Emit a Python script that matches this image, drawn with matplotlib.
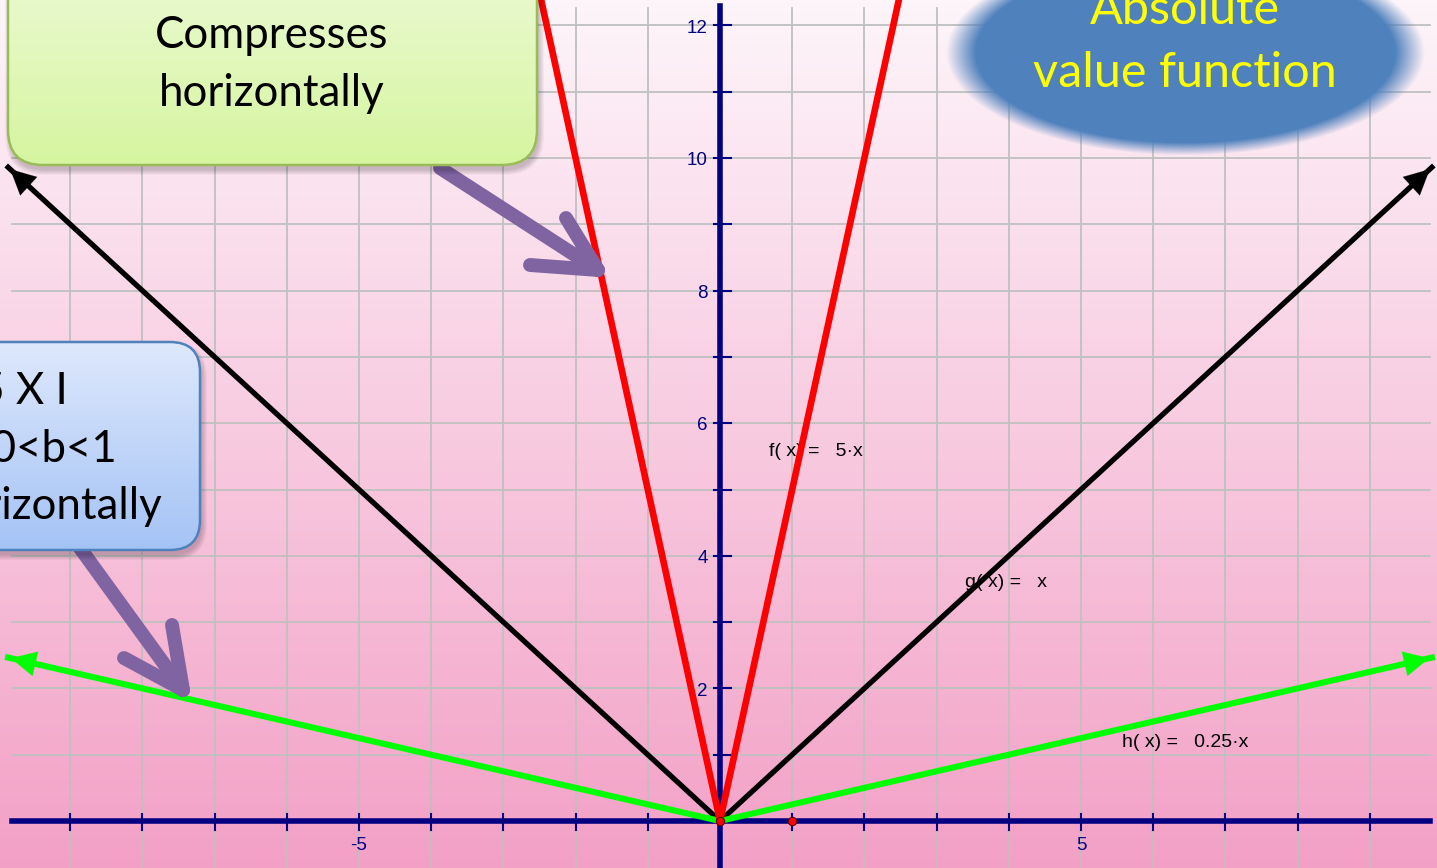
import numpy as np
import matplotlib.pyplot as plt
from matplotlib.patches import FancyBboxPatch

# Vértices (función valor absoluto)
f_x = [-2.48, 0, 2.48]
f_y = [12.4, 0, 12.4]
g_x = [-9.86, 0, 9.86]
g_y = [9.86, 0, 9.86]
h_x = [-9.86, 0, 9.86]
h_y = [2.465, 0, 2.465]

x_ticks = [-9, -8, -7, -6, -5, -4, -3, -2, -1, 1, 2, 3, 4, 5, 6, 7, 8, 9]
x_labels = [-5, 5]
y_ticks = [1, 2, 3, 4, 5, 6, 7, 8, 9, 10, 11, 12]
y_labels = [2, 4, 6, 8, 10, 12]
puntos_x = [0, 1]
puntos_y = [0, 0]
etiquetas = ['f( x) =   5·x', 'g( x) =   x', 'h( x) =   0.25·x']

W, H = 1437, 868
navy = '#000080'
fuente = 'Liberation Sans'
fuente2 = 'Lato'

fig = plt.figure(figsize=(W / 100, H / 100), dpi=100)
ax = fig.add_axes([0, 0, 1, 1])
xmin, xmax = -720 / 72.2, 717 / 72.2
ymin, ymax = -47 / 66.3, 821 / 66.3

# Fondo degradado
top = np.array([253, 245, 250]) / 255
bot = np.array([243, 160, 198]) / 255
t = np.linspace(0, 1, 256)[:, None, None]
grad = top * (1 - t) + bot * t
ax.imshow(grad, extent=[xmin, xmax, ymin, ymax], aspect='auto', origin='upper', zorder=0)

# Cuadrícula
gx0, gx1, gy1 = -9.81, 9.83, 12.26
for xv in x_ticks:
    ax.plot([xv, xv], [ymin, gy1], color='#c0c0c0', lw=1.3, zorder=1)
for yv in y_ticks:
    ax.plot([gx0, gx1], [yv, yv], color='#c0c0c0', lw=1.3, zorder=1)

# Ejes
ax.plot([gx0, gx1], [0, 0], color=navy, lw=4, zorder=2)
ax.plot([0, 0], [ymin, 12.29], color=navy, lw=4, zorder=2)
for xv in x_ticks:
    ax.plot([xv, xv], [-0.13, 0.1], color=navy, lw=1.5, zorder=2)
for yv in y_ticks:
    ax.plot([-0.08, 0.15], [yv, yv], color=navy, lw=1.5, zorder=2)
for xv in x_labels:
    ax.text(xv, -0.37, str(xv), ha='center', va='center', color=navy,
            fontsize=13.5, family=fuente, zorder=2)
for yv in y_labels:
    ax.text(-0.17, yv - 0.04, str(yv), ha='right', va='center', color=navy,
            fontsize=13.5, family=fuente, zorder=2)

# Etiquetas de funciones (debajo de las líneas)
ax.text(0.68, 5.57, etiquetas[0], fontsize=14, family=fuente, va='center', zorder=3)
ax.text(3.39, 3.60, etiquetas[1], fontsize=14, family=fuente, va='center', zorder=3)
ax.text(5.57, 1.19, etiquetas[2], fontsize=14, family=fuente, va='center', zorder=3)

# Funciones
ax.plot(g_x, g_y, color='black', lw=3.8, zorder=4)
ax.plot(h_x, h_y, color='#00ff00', lw=4.4, zorder=4)
ax.plot(f_x, f_y, color='red', lw=4.8, zorder=5)
for xs, ys, c in [(g_x, g_y, 'black'), (h_x, h_y, '#00ff00')]:
    for i in (0, 2):
        xe, ye = xs[i], ys[i]
        ax.annotate('', xy=(xe, ye), xytext=(xe * 0.97, ye * 0.97),
                    arrowprops=dict(arrowstyle='-|>,head_length=0.9,head_width=0.45',
                                    color=c, lw=0.1, mutation_scale=20), zorder=4)
ax.plot(puntos_x, puntos_y, 'o', color='red', mec='#600000', mew=0.8, ms=6, zorder=6)

ax.set_xlim(xmin, xmax)
ax.set_ylim(ymin, ymax)
ax.axis('off')

# Capa de anotaciones en píxeles
ov = fig.add_axes([0, 0, 1, 1])
ov.patch.set_alpha(0)


def caja(x0, y0, w, h, r, c_top, c_bot, borde):
    for k in range(6):
        s = FancyBboxPatch((x0 + 2 - k, y0 + 5 - k), w + 2 * k, h + 2 * k,
                           boxstyle=f'round,pad=0,rounding_size={r + k}',
                           fc='black', ec='none', alpha=0.035, zorder=7)
        ov.add_patch(s)
    p = FancyBboxPatch((x0, y0), w, h, boxstyle=f'round,pad=0,rounding_size={r}',
                       fc='none', ec=borde, lw=1.8, zorder=9)
    ov.add_patch(p)
    tt = np.linspace(0, 1, 128)[:, None, None]
    g = np.array(c_top) / 255 * (1 - tt) + np.array(c_bot) / 255 * tt
    im = ov.imshow(g, extent=[x0, x0 + w, y0 + h, y0], origin='upper', aspect='auto', zorder=8)
    im.set_clip_path(p)


# Flechas moradas
morado = '#8064a2'
for tramos in [[(440, 168), (598, 270)], [(598, 270), (530, 265)], [(598, 270), (566, 218)],
               [(80, 548), (183, 690)], [(183, 690), (124, 658)], [(183, 690), (172, 625)]]:
    (a, b), (c, d) = tramos
    ov.plot([a, c], [b, d], color=morado, lw=10, solid_capstyle='round', zorder=6.5)

caja(8, -60, 529, 225, 35, (238, 250, 218), (214, 245, 160), '#9bbb59')
caja(-200, 342, 400, 208, 30, (222, 232, 252), (164, 195, 245), '#4f81bd')

tam = 31.5
ov.text(272, 48, 'Compresses', ha='center', va='baseline', fontsize=tam, family=fuente2, zorder=10)
ov.text(272, 106, 'horizontally', ha='center', va='baseline', fontsize=tam, family=fuente2, zorder=10)
ov.text(68, 404, 'I 0.25 X I', ha='right', va='baseline', fontsize=tam, family=fuente2, zorder=10)
ov.text(117, 462, 'when 0<b<1', ha='right', va='baseline', fontsize=tam, family=fuente2, zorder=10)
ov.text(162, 519, 'Stretches horizontally', ha='right', va='baseline', fontsize=tam,
        family=fuente2, zorder=10)

# Elipse difuminada
cx, cy, ea, eb = 1185, 52, 228, 98
yy, xx = np.mgrid[-60:175, 920:1440]
r = np.sqrt(((xx - cx) / ea) ** 2 + ((yy - cy) / eb) ** 2)
alpha = np.clip((1.05 - r) / 0.13, 0, 1)
rgba = np.zeros(r.shape + (4,))
rgba[..., :3] = np.array([79, 129, 189]) / 255
rgba[..., 3] = alpha
ov.imshow(rgba, extent=[920, 1440, 175, -60], origin='upper', aspect='auto',
          interpolation='bilinear', zorder=8)
ov.text(1185, 24, 'Absolute', ha='center', va='baseline', fontsize=35, family=fuente2,
        color='#ffff00', zorder=10)
ov.text(1185, 87, 'value function', ha='center', va='baseline', fontsize=35, family=fuente2,
        color='#ffff00', zorder=10)

ov.set_xlim(0, W)
ov.set_ylim(H, 0)
ov.axis('off')

fig.savefig('out.png', dpi=100)
